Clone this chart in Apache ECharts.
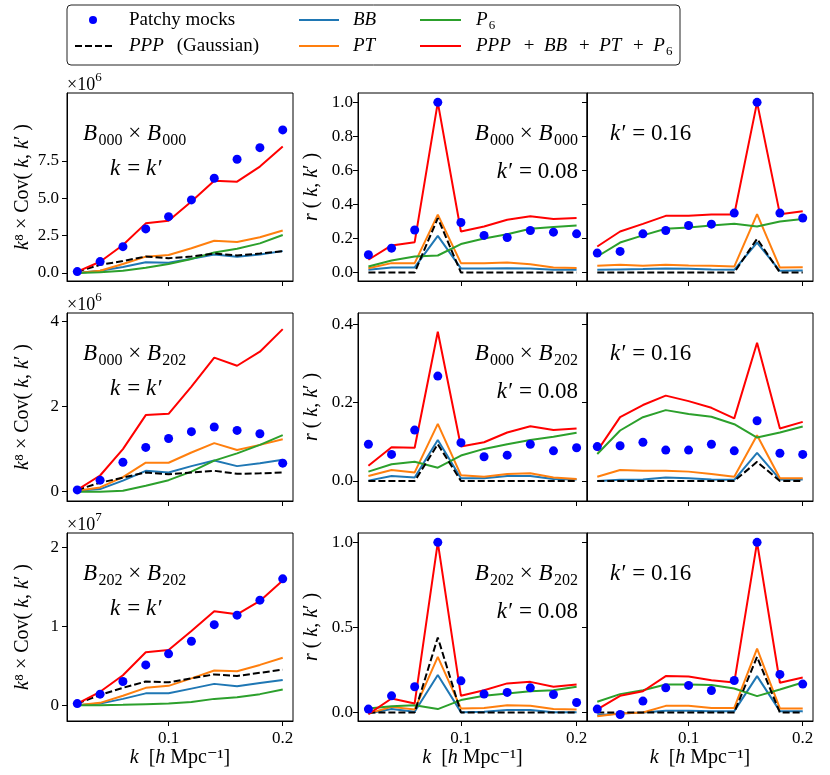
<!DOCTYPE html>
<html><head><meta charset="utf-8">
<script src="https://cdn.jsdelivr.net/npm/echarts@6/dist/echarts.min.js"></script>
<style>html,body{margin:0;padding:0;background:#fff}#c{width:830px;height:775px}</style>
</head><body><div id="c"></div><script>
// ---------------- DATA ----------------
const kVals = [0.02, 0.04, 0.06, 0.08, 0.10, 0.12, 0.14, 0.16, 0.18, 0.20];
const xTicks = [0.1, 0.2];

// B000 x B000, k = k' (units of 1e6)
const d00_mocks = [0.09, 0.76, 1.76, 2.95, 3.77, 4.89, 6.34, 7.61, 8.39, 9.58];
const d00_ppp   = [0.09, 0.54, 0.80, 1.10, 0.99, 1.10, 1.30, 1.17, 1.30, 1.46];
const d00_bb    = [0.00, 0.15, 0.40, 0.72, 0.68, 0.95, 1.24, 1.08, 1.24, 1.46];
const d00_pt    = [0.00, 0.15, 0.60, 1.09, 1.20, 1.65, 2.16, 2.07, 2.39, 2.84];
const d00_p6    = [0.00, 0.05, 0.15, 0.35, 0.60, 0.94, 1.37, 1.62, 1.98, 2.54];
const d00_tot   = [0.09, 0.75, 1.87, 3.32, 3.50, 4.78, 6.18, 6.11, 7.12, 8.46];
// B000 x B000, k' = 0.08
const r00a_mocks = [0.104, 0.143, 0.250, 1.0, 0.294, 0.218, 0.206, 0.247, 0.237, 0.227];
const r00a_ppp   = [0, 0, 0, 0.320, 0, 0, 0, 0, 0, 0];
const r00a_bb    = [0.016, 0.030, 0.030, 0.215, 0.024, 0.024, 0.025, 0.024, 0.016, 0.016];
const r00a_pt    = [0.025, 0.055, 0.055, 0.340, 0.055, 0.055, 0.059, 0.049, 0.030, 0.027];
const r00a_p6    = [0.035, 0.070, 0.094, 0.100, 0.167, 0.200, 0.225, 0.257, 0.267, 0.276];
const r00a_tot   = [0.075, 0.159, 0.178, 1.0, 0.241, 0.270, 0.310, 0.330, 0.314, 0.320];
// B000 x B000, k' = 0.16
const r00b_mocks = [0.114, 0.124, 0.227, 0.247, 0.276, 0.284, 0.349, 1.0, 0.349, 0.320];
const r00b_ppp   = [0, 0, 0, 0, 0, 0, 0, 0.198, 0, 0];
const r00b_bb    = [0.016, 0.018, 0.020, 0.024, 0.022, 0.018, 0.016, 0.176, 0.010, 0.012];
const r00b_pt    = [0.039, 0.045, 0.039, 0.045, 0.041, 0.039, 0.035, 0.343, 0.029, 0.031];
const r00b_p6    = [0.094, 0.176, 0.218, 0.257, 0.265, 0.276, 0.286, 0.270, 0.300, 0.314];
const r00b_tot   = [0.153, 0.241, 0.286, 0.333, 0.333, 0.341, 0.341, 1.0, 0.343, 0.360];

// B000 x B202, k = k' (units of 1e6)
const d02_mocks = [0.04, 0.27, 0.69, 1.04, 1.25, 1.41, 1.52, 1.44, 1.36, 0.67];
const d02_ppp   = [0.04, 0.21, 0.33, 0.45, 0.41, 0.45, 0.49, 0.42, 0.43, 0.45];
const d02_bb    = [0.02, 0.06, 0.26, 0.49, 0.45, 0.60, 0.73, 0.60, 0.67, 0.75];
const d02_pt    = [0.02, 0.10, 0.34, 0.68, 0.68, 0.92, 1.14, 0.98, 1.10, 1.23];
const d02_p6    = [0.00, 0.00, 0.02, 0.14, 0.27, 0.47, 0.73, 0.90, 1.10, 1.33];
const d02_tot   = [0.04, 0.38, 1.00, 1.80, 1.83, 2.47, 3.15, 2.96, 3.29, 3.82];
// B000 x B202, k' = 0.08
const r02a_mocks = [0.094, 0.068, 0.130, 0.268, 0.098, 0.062, 0.066, 0.094, 0.077, 0.085];
const r02a_ppp   = [0, 0, 0, 0.094, 0, 0, 0, 0, 0, 0];
const r02a_bb    = [0.001, 0.013, 0.009, 0.105, 0.007, 0.007, 0.013, 0.013, 0.005, 0.004];
const r02a_pt    = [0.013, 0.028, 0.022, 0.146, 0.015, 0.011, 0.018, 0.020, 0.009, 0.005];
const r02a_p6    = [0.024, 0.043, 0.049, 0.034, 0.065, 0.082, 0.094, 0.105, 0.113, 0.123];
const r02a_tot   = [0.039, 0.086, 0.085, 0.381, 0.088, 0.099, 0.124, 0.140, 0.130, 0.134];
// B000 x B202, k' = 0.16
const r02b_mocks = [0.088, 0.090, 0.099, 0.079, 0.079, 0.094, 0.077, 0.154, 0.071, 0.068];
const r02b_ppp   = [0, 0, 0, 0, 0, 0, 0, 0.049, 0, 0];
const r02b_bb    = [0.000, 0.003, 0.004, 0.009, 0.007, 0.004, 0.003, 0.072, 0.004, 0.004];
const r02b_pt    = [0.011, 0.028, 0.026, 0.026, 0.024, 0.018, 0.011, 0.117, 0.007, 0.007];
const r02b_p6    = [0.069, 0.129, 0.163, 0.181, 0.171, 0.164, 0.145, 0.111, 0.124, 0.139];
const r02b_tot   = [0.077, 0.163, 0.194, 0.218, 0.204, 0.187, 0.160, 0.353, 0.134, 0.151];

// B202 x B202, k = k' (units of 1e7)
const d22_mocks = [0.02, 0.14, 0.30, 0.51, 0.65, 0.81, 1.02, 1.14, 1.33, 1.60];
const d22_ppp   = [0.02, 0.13, 0.22, 0.30, 0.29, 0.34, 0.39, 0.37, 0.41, 0.45];
const d22_bb    = [0.00, 0.02, 0.08, 0.15, 0.15, 0.21, 0.27, 0.24, 0.28, 0.32];
const d22_pt    = [0.00, 0.03, 0.12, 0.22, 0.245, 0.34, 0.44, 0.43, 0.51, 0.60];
const d22_p6    = [0.00, 0.00, 0.005, 0.013, 0.02, 0.04, 0.08, 0.10, 0.14, 0.20];
const d22_tot   = [0.02, 0.17, 0.38, 0.67, 0.70, 0.94, 1.19, 1.15, 1.32, 1.58];
// B202 x B202, k' = 0.08
const r22a_mocks = [0.020, 0.098, 0.151, 1.0, 0.186, 0.108, 0.118, 0.145, 0.106, 0.059];
const r22a_ppp   = [0, 0, 0, 0.441, 0, 0, 0, 0, 0, 0];
const r22a_bb    = [-0.006, 0.020, 0.004, 0.220, 0.002, 0.004, 0.014, 0.014, 0.002, 0.002];
const r22a_pt    = [-0.006, 0.033, 0.018, 0.327, 0.024, 0.027, 0.043, 0.039, 0.020, 0.018];
const r22a_p6    = [0.024, 0.037, 0.043, 0.020, 0.073, 0.098, 0.112, 0.125, 0.131, 0.151];
const r22a_tot   = [-0.010, 0.082, 0.053, 1.0, 0.098, 0.131, 0.171, 0.180, 0.151, 0.165];
// B202 x B202, k' = 0.16
const r22b_mocks = [0.020, -0.012, 0.067, 0.145, 0.159, 0.129, 0.188, 1.0, 0.224, 0.167];
const r22b_ppp   = [0, 0, 0, 0, 0, 0, 0, 0.327, 0, 0];
const r22b_bb    = [-0.016, -0.006, 0.000, 0.010, 0.010, 0.008, 0.008, 0.214, 0.008, 0.008];
const r22b_pt    = [-0.022, -0.006, 0.000, 0.039, 0.039, 0.027, 0.027, 0.376, 0.024, 0.024];
const r22b_p6    = [0.063, 0.108, 0.131, 0.165, 0.165, 0.161, 0.141, 0.096, 0.135, 0.176];
const r22b_tot   = [0.018, 0.098, 0.125, 0.214, 0.212, 0.190, 0.176, 1.0, 0.175, 0.206];

// tick values
const yTicksD00 = [0, 2.5, 5, 7.5];
const yTicksD02 = [0, 2, 4];
const yTicksD22 = [0, 1, 2];
const yTicksR00 = [0, 0.2, 0.4, 0.6, 0.8, 1.0];
const yTicksR02 = [0, 0.2, 0.4];
const yTicksR22 = [0, 0.5, 1.0];

// ---------------- LAYOUT ----------------
const FONT = '"Liberation Serif", "DejaVu Serif", serif';
const C = {bb:'#1f77b4', pt:'#ff7f0e', p6:'#2ca02c', tot:'#ff0000', mocks:'#0000ff', ppp:'#000000'};
const rowTop = [93, 313, 533], H = 188;
const colLeft = [67, 358, 587], colW = [226, 229, 226];
const XMIN = 0.011, XMAX = 0.209;

const f1 = v => v.toFixed(1), f0 = v => String(Math.round(v));
const panels = [
  {row:0,col:0,s:[d00_mocks,d00_ppp,d00_bb,d00_pt,d00_p6,d00_tot], yr:[-0.54,12.05], yt:yTicksD00, fmt:f1},
  {row:0,col:1,s:[r00a_mocks,r00a_ppp,r00a_bb,r00a_pt,r00a_p6,r00a_tot], yr:[-0.05,1.055], yt:yTicksR00, fmt:f1},
  {row:0,col:2,s:[r00b_mocks,r00b_ppp,r00b_bb,r00b_pt,r00b_p6,r00b_tot], yr:[-0.05,1.055], yt:yTicksR00, fmt:f1},
  {row:1,col:0,s:[d02_mocks,d02_ppp,d02_bb,d02_pt,d02_p6,d02_tot], yr:[-0.22,4.2], yt:yTicksD02, fmt:f0},
  {row:1,col:1,s:[r02a_mocks,r02a_ppp,r02a_bb,r02a_pt,r02a_p6,r02a_tot], yr:[-0.051,0.429], yt:yTicksR02, fmt:f1},
  {row:1,col:2,s:[r02b_mocks,r02b_ppp,r02b_bb,r02b_pt,r02b_p6,r02b_tot], yr:[-0.051,0.429], yt:yTicksR02, fmt:f1},
  {row:2,col:0,s:[d22_mocks,d22_ppp,d22_bb,d22_pt,d22_p6,d22_tot], yr:[-0.2,2.18], yt:yTicksD22, fmt:f0},
  {row:2,col:1,s:[r22a_mocks,r22a_ppp,r22a_bb,r22a_pt,r22a_p6,r22a_tot], yr:[-0.05,1.055], yt:yTicksR22, fmt:f1},
  {row:2,col:2,s:[r22b_mocks,r22b_ppp,r22b_bb,r22b_pt,r22b_p6,r22b_tot], yr:[-0.05,1.055], yt:yTicksR22, fmt:f1},
];

const richI = {i:{fontStyle:'italic', fontFamily:FONT, fontSize:20, color:'#000'}};
const grids = [], xAxes = [], yAxes = [], series = [];
panels.forEach((p, i) => {
  grids.push({left: colLeft[p.col], top: rowTop[p.row], width: colW[p.col], height: H,
    show: true, borderColor: '#000', borderWidth: 1, backgroundColor: 'transparent', containLabel: false});
  const bottom = p.row === 2;
  xAxes.push({type:'value', gridIndex:i, min:XMIN, max:XMAX,
    axisLine:{show:true, onZero:false, lineStyle:{color:'#000', width:1}},
    axisTick:{show:true, length:5, customValues:xTicks, lineStyle:{color:'#000'}},
    axisLabel:{show:bottom, customValues:xTicks, formatter:f1, margin:9, color:'#000', fontFamily:FONT, fontSize:17},
    splitLine:{show:false},
    name: bottom ? '{i|k}  [{i|h} Mpc⁻¹]' : '', nameLocation:'middle', nameGap:27,
    nameTextStyle:{fontFamily:FONT, fontSize:20, color:'#000', rich:richI}});
  let yname = '';
  if (p.col === 0) yname = '{i|k}⁸ × Cov( {i|k}, {i|k}′ )';
  if (p.col === 1) yname = '{i|r} ( {i|k}, {i|k}′ )';
  yAxes.push({type:'value', gridIndex:i, min:p.yr[0], max:p.yr[1],
    axisLine:{show:true, onZero:false, lineStyle:{color:'#000', width:1}},
    axisTick:{show:true, length:5, customValues:p.yt, lineStyle:{color:'#000'}},
    axisLabel:{show:p.col !== 2, customValues:p.yt, formatter:p.fmt, margin:p.col===0?8:5, color:'#000', fontFamily:FONT, fontSize:17},
    splitLine:{show:false},
    name:yname, nameLocation:'middle', nameRotate:90, nameGap: p.col===0 ? 34 : 36,
    nameTextStyle:{fontFamily:FONT, fontSize:20, color:'#000', rich:richI}});
  const mk = arr => kVals.map((k, j) => [k, arr[j]]);
  const [mocks, ppp, bb, pt, p6, tot] = p.s;
  const line = (arr, color, z, dash) => ({type:'line', xAxisIndex:i, yAxisIndex:i, data:mk(arr),
    symbol:'none', silent:true, z:z, lineStyle:{color:color, width:2, type: dash ? [7,3] : 'solid'}});
  series.push(line(bb, C.bb, 2), line(pt, C.pt, 3), line(p6, C.p6, 4), line(ppp, C.ppp, 5, true), line(tot, C.tot, 6));
  series.push({type:'scatter', xAxisIndex:i, yAxisIndex:i, data:mk(mocks), symbol:'circle', symbolSize:9,
    itemStyle:{color:C.mocks, opacity:1}, z:7, silent:true});
});

// -------- math-like text helper (real text pieces) --------
const ctx = document.createElement('canvas').getContext('2d');
function mtext(list, x, yc, S, align) {
  const items = list.map(([t, k]) => {
    const small = (k === 's' || k === 'p');
    const size = small ? Math.round(S * 0.7) : S;
    const style = k === 'i' ? 'italic' : 'normal';
    const font = `${style} ${size}px ${FONT}`;
    ctx.font = font;
    const extra = k === 'i' ? 0.06 * S * t.length : 0;
    return {t, font, w: ctx.measureText(t).width + extra, dy: k === 's' ? 0.3 * S : k === 'p' ? -0.4 * S : 0};
  });
  const total = items.reduce((a, b) => a + b.w, 0);
  let cx = align === 'right' ? x - total : (align === 'center' ? x - total / 2 : x);
  return items.map(it => {
    const el = {type:'text', x:cx, y:yc + it.dy, z:100, silent:true,
      style:{text:it.t, font:it.font, fill:'#000', align:'left', textAlign:'left', verticalAlign:'middle', textVerticalAlign:'middle'}};
    cx += it.w;
    return el;
  });
}

const graphics = [];
const S = 23;
[['000','000'], ['000','202'], ['202','202']].forEach(([a, b], r) => {
  const top = rowTop[r];
  const lbl = [['B','i'],[a,'s'],[' × ','r'],['B','i'],[b,'s']];
  graphics.push(...mtext(lbl, 83, top + 41, S, 'left'));
  graphics.push(...mtext([['k','i'],[' = ','r'],['k','i'],['′','r']], 110, top + 76, S, 'left'));
  graphics.push(...mtext(lbl, 578, top + 41, S, 'right'));
  graphics.push(...mtext([['k','i'],['′ = 0.08','r']], 578, top + 79, S, 'right'));
  graphics.push(...mtext([['k','i'],['′ = 0.16','r']], 610, top + 41, S, 'left'));
  graphics.push(...mtext([['×10','r'],[r === 2 ? '7' : '6','p']], 67, top - 8, 18, 'left'));
});

// legend
graphics.push({type:'rect', shape:{x:67, y:5, width:613, height:60, r:4}, z:90,
  style:{fill:'#fff', stroke:'#222', lineWidth:1}});
const L1 = 20, L2 = 46, LS = 19;
graphics.push({type:'circle', shape:{cx:93, cy:L1, r:4}, z:100, style:{fill:C.mocks}});
graphics.push(...mtext([['Patchy mocks','r']], 129, L1, LS, 'left'));
graphics.push({type:'line', shape:{x1:75, y1:L2, x2:112, y2:L2}, z:100, style:{stroke:'#000', lineWidth:2, lineDash:[7,3]}});
graphics.push(...mtext([['PPP','i'],['  (Gaussian)','r']], 129, L2, LS, 'left'));
graphics.push({type:'line', shape:{x1:299, y1:L1, x2:339, y2:L1}, z:100, style:{stroke:C.bb, lineWidth:2}});
graphics.push(...mtext([['BB','i']], 353, L1, LS, 'left'));
graphics.push({type:'line', shape:{x1:299, y1:L2, x2:339, y2:L2}, z:100, style:{stroke:C.pt, lineWidth:2}});
graphics.push(...mtext([['PT','i']], 353, L2, LS, 'left'));
graphics.push({type:'line', shape:{x1:420, y1:L1, x2:461, y2:L1}, z:100, style:{stroke:C.p6, lineWidth:2}});
graphics.push(...mtext([['P','i'],['6','s']], 476, L1, LS, 'left'));
graphics.push({type:'line', shape:{x1:420, y1:L2, x2:461, y2:L2}, z:100, style:{stroke:C.tot, lineWidth:2}});
graphics.push(...mtext([['PPP','i'],['  +  ','r'],['BB','i'],['  +  ','r'],['PT','i'],['  +  ','r'],['P','i'],['6','s']], 476, L2, LS, 'left'));

const chart = echarts.init(document.getElementById('c'), null, {renderer:'canvas'});
chart.setOption({
  animation:false, backgroundColor:'#fff',
  grid:grids, xAxis:xAxes, yAxis:yAxes, series:series, graphic:graphics
});
</script></body></html>
